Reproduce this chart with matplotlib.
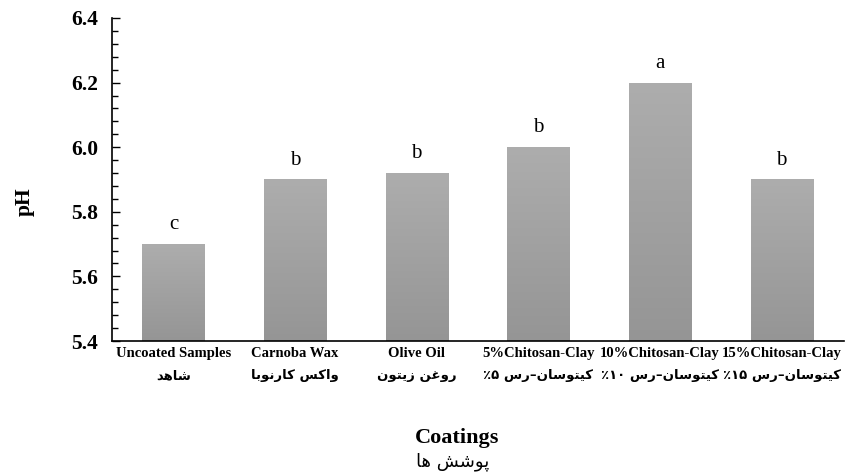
import re

import numpy as np
import matplotlib
matplotlib.use("Agg")
import matplotlib.pyplot as plt
from matplotlib.colors import LinearSegmentedColormap
from matplotlib.ticker import MultipleLocator

# data
coatings_en = ["Uncoated Samples", "Carnoba Wax", "Olive Oil",
               "5%Chitosan-Clay", "10%Chitosan-Clay", "15%Chitosan-Clay"]
coatings_fa = ["شاهد", "واکس کارنوبا", "روغن زیتون",
               "کیتوسان–رس ۵٪", "کیتوسان–رس ۱۰٪", "کیتوسان–رس ۱۵٪"]
ph_values = [5.70, 5.90, 5.92, 6.00, 6.20, 5.90]
letters = ["c", "b", "b", "b", "a", "b"]
yticks = [5.4, 5.6, 5.8, 6.0, 6.2, 6.4]

# Arabic presentation forms: isolated, final, initial, medial
FORMS = {
    "ا": ("\uFE8D", "\uFE8E"),
    "ب": ("\uFE8F", "\uFE90", "\uFE91", "\uFE92"),
    "پ": ("\uFB56", "\uFB57", "\uFB58", "\uFB59"),
    "ت": ("\uFE95", "\uFE96", "\uFE97", "\uFE98"),
    "د": ("\uFEA9", "\uFEAA"),
    "ر": ("\uFEAD", "\uFEAE"),
    "ز": ("\uFEAF", "\uFEB0"),
    "س": ("\uFEB1", "\uFEB2", "\uFEB3", "\uFEB4"),
    "ش": ("\uFEB5", "\uFEB6", "\uFEB7", "\uFEB8"),
    "غ": ("\uFECD", "\uFECE", "\uFECF", "\uFED0"),
    "ک": ("\uFB8E", "\uFB8F", "\uFB90", "\uFB91"),
    "ن": ("\uFEE5", "\uFEE6", "\uFEE7", "\uFEE8"),
    "ه": ("\uFEE9", "\uFEEA", "\uFEEB", "\uFEEC"),
    "و": ("\uFEED", "\uFEEE"),
    "ی": ("\uFBFC", "\uFBFD", "\uFBFE", "\uFBFF"),
}


def shape_fa(text):
    """Join Persian letters and put them in visual (right-to-left) order."""
    out = []
    for i, ch in enumerate(text):
        forms = FORMS.get(ch)
        if forms is None:
            out.append(ch)
            continue
        prev = text[i - 1] if i > 0 else ""
        nxt = text[i + 1] if i + 1 < len(text) else ""
        join_prev = prev in FORMS and len(FORMS[prev]) == 4
        join_next = len(forms) == 4 and nxt in FORMS
        if join_prev and join_next:
            out.append(forms[3])
        elif join_prev:
            out.append(forms[1])
        elif join_next:
            out.append(forms[2])
        else:
            out.append(forms[0])
    vis = "".join(out)[::-1]
    return re.sub("[۰-۹0-9]+", lambda m: m.group(0)[::-1], vis)


plt.rcParams["font.family"] = ["Liberation Serif", "DejaVu Sans"]

fig = plt.figure(figsize=(8.53, 4.76), dpi=100)
ax = fig.add_axes([0.1313, 0.2836, 0.8577, 0.6786])

x = np.arange(len(ph_values))
ymin, ymax = yticks[0], yticks[-1]

bars = ax.bar(x, ph_values, width=0.51, facecolor="none", edgecolor="none", zorder=3)

# vertical grey gradient inside each bar
cmap = LinearSegmentedColormap.from_list("bargrey", ["#959595", "#adadad"])
grad = np.linspace(0, 1, 256).reshape(-1, 1)
for b in bars:
    x0 = b.get_x()
    im = ax.imshow(grad, extent=[x0, x0 + b.get_width(), ymin, b.get_height()],
                   origin="lower", cmap=cmap, aspect="auto", zorder=2,
                   interpolation="bilinear")
    im.set_clip_path(b)

for i, (v, lab) in enumerate(zip(ph_values, letters)):
    ax.annotate(lab, (i, v), xytext=(0, 7), textcoords="offset points",
                ha="center", va="bottom", fontsize=15)

ax.set_xlim(-0.505, 5.51)
ax.set_ylim(ymin, ymax)

ax.set_yticks(yticks, [f"{t:.1f}" for t in yticks], fontsize=15.5, fontweight="bold")
ax.yaxis.set_minor_locator(MultipleLocator(0.04))
ax.tick_params(axis="y", which="major", direction="in", length=6, width=1, pad=10)
ax.tick_params(axis="y", which="minor", direction="in", length=4, width=1)

ax.set_xticks(x, coatings_en, fontsize=10.5, fontweight="bold")
ax.tick_params(axis="x", length=0, pad=4)

for i, lab in enumerate(coatings_fa):
    ax.text(i, -0.108, shape_fa(lab), transform=ax.get_xaxis_transform(),
            ha="center", va="center", family="DejaVu Sans", fontweight="bold",
            fontsize=9.5)

ax.spines["top"].set_visible(False)
ax.spines["right"].set_visible(False)
for side in ("left", "bottom"):
    ax.spines[side].set_linewidth(1.2)

ax.text(-0.12, 0.43, "pH", transform=ax.transAxes, rotation=90,
        ha="center", va="center", fontsize=15.5, fontweight="bold")
ax.text(0.471, -0.3, "Coatings", transform=ax.transAxes,
        ha="center", va="center", fontsize=16, fontweight="bold")
ax.text(0.466, -0.375, shape_fa("پوشش ها"), transform=ax.transAxes,
        ha="center", va="center", family="DejaVu Sans", fontsize=13)

fig.savefig("out.png", dpi=100)
plt.close(fig)
